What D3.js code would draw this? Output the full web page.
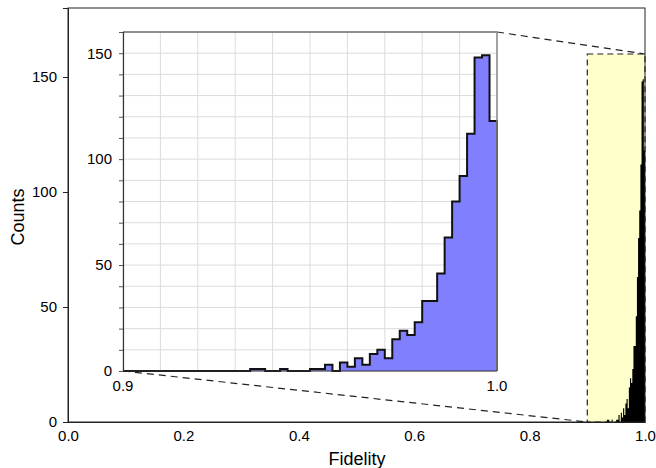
<!DOCTYPE html>
<html><head><meta charset="utf-8">
<script src="https://cdn.jsdelivr.net/npm/d3@7"></script>
<style>body{margin:0;background:#fff}svg{display:block}text{font-family:"Liberation Sans",Arial,sans-serif;fill:#000}</style>
</head><body><svg id="c" width="656" height="468"></svg>
<script>
// Data
const binStart = 0.9, binWidth = 0.002;
const counts = [0,0,0,0,0,0,0,0,0,0,0,0,0,0,0,0,0,1,1,0,0,1,0,0,0,1,1,3,0,4,2,6,3,8,10,6,15,19,17,23,33,33,46,63,80,92,112,148,149,118];
const mainXTicks = [0,0.2,0.4,0.6,0.8,1.0];
const mainYTicks = [0,50,100,150];
const insetYTicks = [0,50,100,150];
const insetXLabels = [0.9,1.0];
const zoomRange = [0.9,1.0];
const zoomTop = 160;

const svg = d3.select("#c");
const bins = counts.map((c,i)=>({x0:binStart+i*binWidth, x1:binStart+(i+1)*binWidth, c}));
function stepPts(){const p=[];bins.forEach(b=>{p.push([b.x0,b.c]);p.push([b.x1,b.c]);});return p;}
const pts = stepPts();

// Main scales
const x = d3.scaleLinear().domain([0,1]).range([68,645]);
const y = d3.scaleLinear().domain([0,180]).range([422,8]);

// Yellow zoom box
svg.append("rect").attr("x",x(zoomRange[0])).attr("y",y(zoomTop))
  .attr("width",x(zoomRange[1])-x(zoomRange[0])).attr("height",y(0)-y(zoomTop))
  .attr("fill","#ffffcc").attr("stroke","#222").attr("stroke-width",1.2).attr("stroke-dasharray","6,4");

// Black histogram on main
svg.append("path").datum(pts)
  .attr("d",d3.area().x(d=>x(d[0])).y0(y(0)).y1(d=>y(d[1])))
  .attr("fill","#000");

// Main frame
svg.append("rect").attr("x",68).attr("y",8).attr("width",577).attr("height",414)
  .attr("fill","none").attr("stroke","#222").attr("stroke-width",1);

const gx = svg.append("g").attr("transform","translate(0,422)")
  .call(d3.axisBottom(x).tickValues(mainXTicks).tickFormat(d3.format(".1f")).tickSize(0).tickPadding(8));
const gy = svg.append("g").attr("transform","translate(68,0)")
  .call(d3.axisLeft(y).tickValues(mainYTicks).tickSize(5).tickPadding(6));
[gx,gy].forEach(g=>{g.select(".domain").attr("stroke","#222");g.selectAll(".tick line").attr("stroke","#222");
  g.selectAll("text").style("font-size","15px").attr("fill","#000");});

svg.append("text").attr("x",357).attr("y",465).attr("text-anchor","middle").style("font-size","18px").text("Fidelity");
svg.append("text").attr("transform","translate(24,217) rotate(-90)").attr("text-anchor","middle").style("font-size","18px").text("Counts");

// Inset
const ix = d3.scaleLinear().domain(zoomRange).range([123,497]);
const iy = d3.scaleLinear().domain([0,zoomTop]).range([371,32]);

// dashed connectors
svg.append("line").attr("x1",ix(zoomRange[0])).attr("y1",iy(0)).attr("x2",x(zoomRange[0])).attr("y2",y(0))
  .attr("stroke","#222").attr("stroke-width",1.2).attr("stroke-dasharray","7,5");
svg.append("line").attr("x1",ix(zoomRange[1])).attr("y1",iy(zoomTop)).attr("x2",x(zoomRange[1])).attr("y2",y(zoomTop))
  .attr("stroke","#222").attr("stroke-width",1.2).attr("stroke-dasharray","7,5");

svg.append("rect").attr("x",123).attr("y",32).attr("width",374).attr("height",339).attr("fill","#fff");
// grid
const gridX = d3.range(0,11).map(i=>0.9+i*0.01);
const gridY = d3.range(0,17).map(i=>i*10);
svg.append("g").selectAll("line").data(gridX).join("line")
  .attr("x1",d=>ix(d)).attr("x2",d=>ix(d)).attr("y1",32).attr("y2",371).attr("stroke","#dcdcdc").attr("stroke-width",1);
svg.append("g").selectAll("line").data(gridY).join("line")
  .attr("x1",123).attr("x2",497).attr("y1",d=>iy(d)).attr("y2",d=>iy(d)).attr("stroke","#dcdcdc").attr("stroke-width",1);

svg.append("path").datum(pts)
  .attr("d",d3.area().x(d=>ix(d[0])).y0(iy(0)).y1(d=>iy(d[1])))
  .attr("fill","#8080ff");
svg.append("path").datum([[zoomRange[0],0],...pts,[zoomRange[1],0]])
  .attr("d",d3.line().x(d=>ix(d[0])).y(d=>iy(d[1])))
  .attr("fill","none").attr("stroke","#111").attr("stroke-width",2).attr("stroke-linejoin","miter");

// inset frame
svg.append("line").attr("x1",123).attr("x2",497).attr("y1",32).attr("y2",32).attr("stroke","#333").attr("stroke-width",1.2);
svg.append("line").attr("x1",497).attr("x2",497).attr("y1",32).attr("y2",371).attr("stroke","#888").attr("stroke-width",1.5);
const iay = svg.append("g").attr("transform","translate(123,0)")
  .call(d3.axisLeft(iy).tickValues(gridY).tickSize(4).tickPadding(7).tickFormat(d=>insetYTicks.includes(d)?d:""));
iay.select(".domain").attr("stroke","#333").attr("stroke-width",1.2);
iay.selectAll(".tick line").attr("stroke","#555");
iay.selectAll("text").style("font-size","15px");
svg.append("line").attr("x1",123).attr("x2",497).attr("y1",371).attr("y2",371).attr("stroke","#333").attr("stroke-width",1.2);
svg.append("g").selectAll("text").data(insetXLabels).join("text")
  .attr("x",d=>ix(d)).attr("y",391).attr("text-anchor","middle").style("font-size","15px").text(d3.format(".1f"));
</script></body></html>
